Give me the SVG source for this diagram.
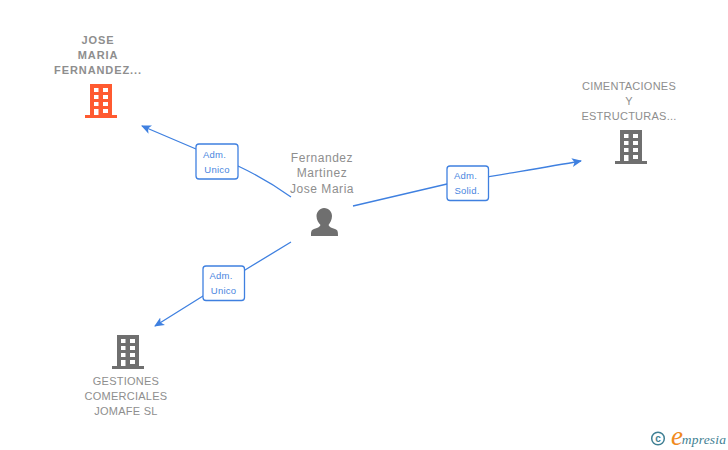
<svg xmlns="http://www.w3.org/2000/svg" width="728" height="450" viewBox="0 0 728 450">
<style>
text{font-family:"Liberation Sans",Arial,sans-serif;text-anchor:middle}
.n{font-size:11px;fill:#8e8e8e;letter-spacing:.25px}
.b{font-weight:bold;letter-spacing:.9px}
.p{font-size:12px;letter-spacing:.55px}
.l{font-size:9.500px;fill:#4a86e0;letter-spacing:.2px}
.c{fill:none;stroke:#3f80e0;stroke-width:1.3}
.box{fill:#fff;stroke:#3f80e0;stroke-width:1.300}
</style>
<defs>
<path id="bld" fill-rule="evenodd" d="M5 0H27V31H32V34H0V31H5ZM9 4V8H13.500V4ZM18 4V8H23V4ZM9 11V15H13.500V11ZM18 11V15H23V11ZM9 18V22H13.500V18ZM18 18V22H23V18ZM9 25V31H13.500V25ZM18 25V29H23V25Z"/>
<marker id="a" markerWidth="12" markerHeight="10" refX="9" refY="5" orient="auto" markerUnits="userSpaceOnUse"><path d="M0 0.500L10 5L0 9.500L2.500 5Z" fill="#3f80e0"/></marker>
</defs>
<g id="connectors">
<path class="c" marker-end="url(#a)" d="M291 197C270 182 255 174 238 166L196 149L142 126"/>
<path class="c" marker-end="url(#a)" d="M353 206L447 184C490 176 530 170 581 161"/>
<path class="c" marker-end="url(#a)" d="M291 242L245 270L203 296L155 326"/>
</g>
<g id="node-jose">
<text class="n b"><tspan x="98" y="44">JOSE</tspan><tspan x="98" y="59">MARIA</tspan><tspan x="98" y="74">FERNANDEZ...</tspan></text>
<use href="#bld" x="85" y="84" fill="#ff5a30"/>
</g>
<g id="node-person">
<text class="n p"><tspan x="322" y="162">Fernandez</tspan><tspan x="322" y="177">Martinez</tspan><tspan x="322" y="193">Jose Maria</tspan></text>
<path fill="#6f6f6f" d="M324 208C329 208 332 212 332 216C332 220 330 223 328.500 225C329 227 332 228 335 229C338 230 338 232 338 236H311C311 232 311 230 314 229C317 228 320 227 320.500 225C318.500 223 316.500 220 316.500 216C316.500 212 320 208 324 208Z"/>
</g>
<g id="node-cimentaciones">
<text class="n"><tspan x="629" y="90">CIMENTACIONES</tspan><tspan x="629" y="105">Y</tspan><tspan x="629" y="120">ESTRUCTURAS...</tspan></text>
<use href="#bld" x="615" y="130" fill="#6f6f6f"/>
</g>
<g id="node-gestiones">
<use href="#bld" x="112" y="335" fill="#6f6f6f"/>
<text class="n"><tspan x="126" y="385">GESTIONES</tspan><tspan x="126" y="400">COMERCIALES</tspan><tspan x="126" y="415">JOMAFE SL</tspan></text>
</g>
<g id="label-1">
<rect class="box" x="196" y="144" width="42" height="35" rx="3"/>
<text class="l"><tspan x="214.500" y="158">Adm.</tspan><tspan x="217" y="173">Unico</tspan></text>
</g>
<g id="label-2">
<rect class="box" x="447" y="166" width="41.500" height="34.500" rx="3"/>
<text class="l"><tspan x="465.500" y="179">Adm.</tspan><tspan x="467" y="194">Solid.</tspan></text>
</g>
<g id="label-3">
<rect class="box" x="203" y="266" width="41.500" height="34.500" rx="3"/>
<text class="l"><tspan x="221" y="279">Adm.</tspan><tspan x="223.500" y="294">Unico</tspan></text>
</g>
<g id="logo">
<circle cx="658" cy="438.500" r="6.300" fill="none" stroke="#3f7f93" stroke-width="1.500"/>
<text x="658" y="442" style="font-size:10px;fill:#3f7f93;font-weight:bold">c</text>
<text x="677" y="445" style="font-family:'Liberation Serif',serif;font-style:italic;font-size:27px;fill:#f08a1d">e</text>
<text x="704" y="444" style="font-family:'Liberation Serif',serif;font-style:italic;font-size:13.500px;fill:#3f7f93;letter-spacing:.2px">mpresia</text>
</g>
</svg>
